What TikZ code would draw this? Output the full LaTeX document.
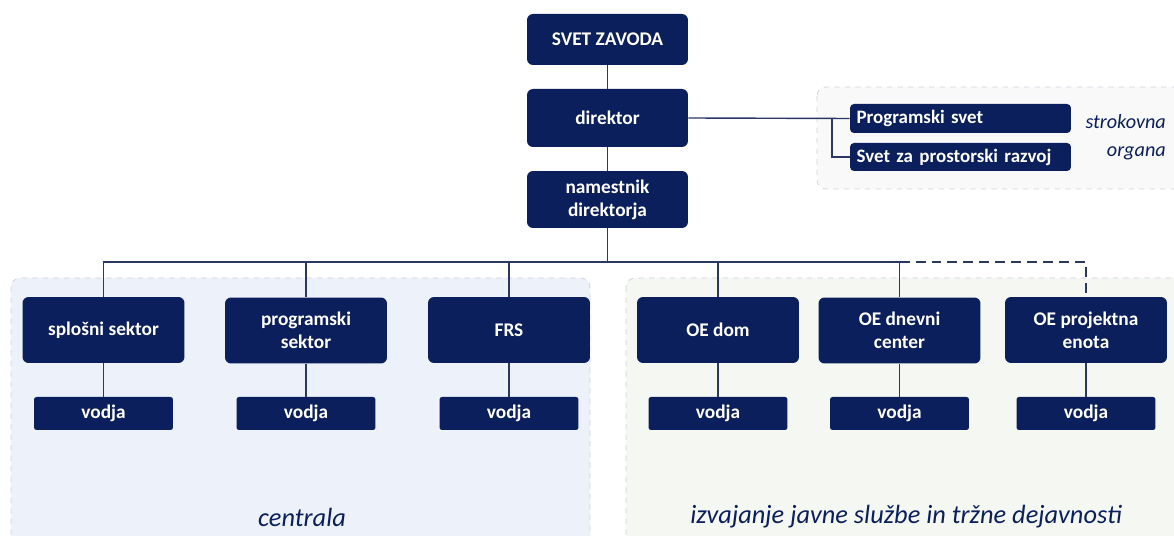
\documentclass[tikz,border=0pt]{standalone}
\usepackage{fontspec}
\setmainfont{Carlito}
\definecolor{navy}{HTML}{0B1F5C}
\definecolor{linecol}{HTML}{2A3864}
\definecolor{panelblue}{HTML}{EDF1F9}
\definecolor{panelgreen}{HTML}{F5F7F2}
\definecolor{panelgrey}{HTML}{F9F9FA}
\definecolor{paneledge}{HTML}{CDD2DC}
\begin{document}
\begin{tikzpicture}
[x=0.02cm,y=-0.02cm,%
  box/.style={draw=none,fill=navy,text=white,font=\bfseries\fontsize{11}{13}\selectfont,%
    rounded corners=0.12cm,align=center,inner sep=0pt},%
  bigbox/.style={box,minimum width=3.24cm,minimum height=1.32cm},%
  topbox/.style={box,minimum width=3.22cm},%
  vodjabox/.style={box,rounded corners=0.05cm,minimum width=2.78cm,minimum height=0.66cm},%
  sidebox/.style={box,rounded corners=0.08cm,align=left,text width=4.16cm,inner xsep=0.13cm,%
    font=\bfseries\fontsize{10.8}{13}\selectfont},%
  panel/.style={draw=paneledge,dashed,line width=0.4pt,rounded corners=0.18cm},%
  link/.style={draw=linecol,line width=0.8pt},%
  paneltext/.style={font=\itshape\fontsize{15}{17}\selectfont,text=navy}]
\useasboundingbox (0,0) rectangle (1174,536);
\fill[white] (0,0) rectangle (1174,536);
\draw[panel,fill=panelgrey] (817,87) rectangle (1190,189);
\draw[panel,fill=panelblue] (11,278) rectangle (590,545);
\draw[panel,fill=panelgreen] (626,278) rectangle (1190,545);

\node[topbox,minimum height=1.02cm] (svet) at (607.5,39.5) {SVET ZAVODA};
\node[topbox,minimum height=1.16cm] (dir) at (607.5,118) {direktor};
\node[topbox,minimum height=1.14cm] (nam) at (607.5,199.5) {namestnik\\direktorja};

\node[sidebox,minimum height=0.58cm] (ps) at (960.5,118.5) {Programski svet};
\node[sidebox,minimum height=0.56cm] (svr) at (960.5,157) {Svet za prostorski razvoj};
\node[paneltext,font=\itshape\fontsize{11.5}{16}\selectfont,align=right,anchor=east] (strok)
  at (1172,137) {strokovna\\organa};

\node[bigbox] (spl) at (103.5,330) {splošni sektor};
\node[bigbox] (prog) at (306,330.5) {programski\\sektor};
\node[bigbox] (frs) at (509,330) {FRS};
\node[bigbox] (dom) at (718,330) {OE dom};
\node[bigbox] (dc) at (899.5,330.5) {OE dnevni\\center};
\node[bigbox] (proj) at (1086,330) {OE projektna\\enota};

\foreach \n/\x in {spl/103.5,prog/306,frs/509,dom/718,dc/899.5,proj/1086}
  \node[vodjabox] (v\n) at (\x,413.5) {vodja};

\node[paneltext] (centrala) at (302,517) {centrala};
\node[paneltext] (izv) at (906,517) {izvajanje javne službe in tržne dejavnosti};

\coordinate (bus) at (607.5,262);
\coordinate (split) at (832,118);
\draw[link] (svet.south) -- (dir.north);
\draw[link] (dir.south) -- (nam.north);
\draw[link] (nam.south) -- (bus);
\draw[link] (dir.east) -- (ps.west);
\draw[link] (split) |- (svr.west);
\foreach \n in {spl,prog,frs,dom,dc}
  \draw[link] (\n.north) |- (bus);
\draw[link,line width=1.4pt,dash pattern=on 0.2cm off 0.12cm] (dc.north |- bus) -| (proj.north);
\foreach \n in {spl,prog,frs,dom,dc,proj}
  \draw[link] (\n.south) -- (v\n.north);
\end{tikzpicture}
\end{document}
